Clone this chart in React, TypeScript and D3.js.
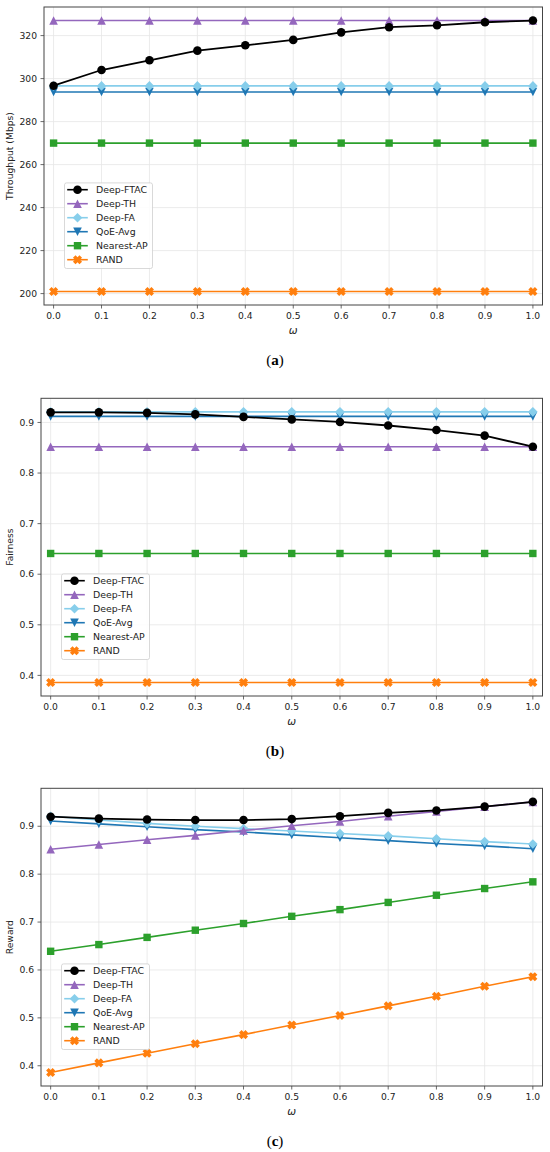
import * as d3 from 'd3';

const omega = [0, 0.1, 0.2, 0.3, 0.4, 0.5, 0.6, 0.7, 0.8, 0.9, 1.0];
const xTicks = omega;
const methods = ['Deep-FTAC', 'Deep-TH', 'Deep-FA', 'QoE-Avg', 'Nearest-AP', 'RAND'];
const colors = ['#000000', '#9467bd', '#87ceeb', '#1f77b4', '#2ca02c', '#ff7f0e'];
const shapes = ['circle', 'tri-up', 'diamond', 'tri-down', 'square', 'x'];

// (a) throughput
const thrFTAC = [296.7, 304.0, 308.5, 313.0, 315.5, 318.0, 321.5, 323.9, 324.8, 326.2, 327.0];
const thrTH = [327, 327, 327, 327, 327, 327, 327, 327, 327, 327, 327];
const thrFA = [296.6, 296.6, 296.6, 296.6, 296.6, 296.6, 296.6, 296.6, 296.6, 296.6, 296.6];
const thrQoE = [293.8, 293.8, 293.8, 293.8, 293.8, 293.8, 293.8, 293.8, 293.8, 293.8, 293.8];
const thrNearest = [270, 270, 270, 270, 270, 270, 270, 270, 270, 270, 270];
const thrRAND = [201, 201, 201, 201, 201, 201, 201, 201, 201, 201, 201];
const thrTicks = [200, 220, 240, 260, 280, 300, 320];

// (b) fairness
const fairFTAC = [0.920, 0.920, 0.919, 0.916, 0.911, 0.906, 0.901, 0.894, 0.885, 0.874, 0.852];
const fairTH = [0.852, 0.852, 0.852, 0.852, 0.852, 0.852, 0.852, 0.852, 0.852, 0.852, 0.852];
const fairFA = [0.921, 0.921, 0.921, 0.921, 0.921, 0.921, 0.921, 0.921, 0.921, 0.921, 0.921];
const fairQoE = [0.912, 0.912, 0.912, 0.912, 0.912, 0.912, 0.912, 0.912, 0.912, 0.912, 0.912];
const fairNearest = [0.641, 0.641, 0.641, 0.641, 0.641, 0.641, 0.641, 0.641, 0.641, 0.641, 0.641];
const fairRAND = [0.386, 0.386, 0.386, 0.386, 0.386, 0.386, 0.386, 0.386, 0.386, 0.386, 0.386];
const fairTicks = [0.4, 0.5, 0.6, 0.7, 0.8, 0.9];

// (c) reward
const rewFTAC = [0.920, 0.916, 0.914, 0.913, 0.913, 0.915, 0.921, 0.928, 0.933, 0.941, 0.951];
const rewTH = [0.852, 0.862, 0.872, 0.881, 0.891, 0.901, 0.910, 0.921, 0.931, 0.941, 0.951];
const rewFA = [0.921, 0.913, 0.906, 0.900, 0.895, 0.890, 0.885, 0.880, 0.874, 0.868, 0.863];
const rewQoE = [0.911, 0.905, 0.899, 0.893, 0.888, 0.882, 0.876, 0.870, 0.864, 0.859, 0.853];
const rewNearest = [0.639, 0.653, 0.668, 0.683, 0.697, 0.712, 0.726, 0.741, 0.756, 0.770, 0.784];
const rewRAND = [0.386, 0.406, 0.426, 0.446, 0.465, 0.485, 0.505, 0.525, 0.545, 0.566, 0.586];
const rewTicks = [0.4, 0.5, 0.6, 0.7, 0.8, 0.9];

const FONT = 'DejaVu Sans, sans-serif';
const SPINE = '#444';
const GRID = '#e6e6e6';

const markerPath = (shape: string) => {
    if (shape === 'circle') return d3.symbol(d3.symbolCircle, Math.PI * 4.3 * 4.3)() as string;
    if (shape === 'square') return 'M-3.7,-3.7L3.7,-3.7L3.7,3.7L-3.7,3.7Z';
    if (shape === 'diamond') return 'M0,-4.8L4.8,0L0,4.8L-4.8,0Z';
    if (shape === 'tri-up') return 'M0,-4.3L4.3,4.3L-4.3,4.3Z';
    if (shape === 'tri-down') return 'M0,4.3L4.3,-4.3L-4.3,-4.3Z';
    // filled X: a plus rotated by 45 degrees
    const L = 4.6, w = 1.8;
    const pts = [[w, L], [w, w], [L, w], [L, -w], [w, -w], [w, -L], [-w, -L], [-w, -w], [-L, -w], [-L, w], [-w, w], [-w, L]];
    const c = Math.SQRT1_2;
    return 'M' + pts.map(([x, y]) => [(x - y) * c, (x + y) * c].map(v => v.toFixed(2)).join(',')).join('L') + 'Z';
};

const Panel = (props: any) => {
    const { left, right, top, bottom, series, yTicks, yLabel, yFmt, letter } = props;
    const all = series.flat();
    const lo = d3.min(all) as number;
    const hi = d3.max(all) as number;
    const pad = (hi - lo) * 0.05;
    const x = d3.scaleLinear().domain([-0.02, 1.02]).range([left, right]);
    const y = d3.scaleLinear().domain([lo - pad, hi + pad]).range([bottom, top]);
    const line = d3.line<number>().x((d, i) => x(omega[i])).y(d => y(d));
    const order = [5, 4, 3, 2, 1, 0];
    const lgX = left + 20.5;
    const lgH = 85.6;
    const lgY = bottom - 36.5 - lgH;
    const cx = (left + right) / 2;

    return (
        <g>
            {xTicks.map(t => (
                <line key={'gx' + t} x1={x(t)} x2={x(t)} y1={top} y2={bottom} stroke={GRID} strokeWidth={0.8} />
            ))}
            {yTicks.map((t: number) => (
                <line key={'gy' + t} x1={left} x2={right} y1={y(t)} y2={y(t)} stroke={GRID} strokeWidth={0.8} />
            ))}
            {order.map(k => (
                <g key={methods[k]}>
                    <path d={line(series[k]) as string} fill="none" stroke={colors[k]} strokeWidth={k === 0 ? 1.8 : 1.6} />
                    {series[k].map((v: number, i: number) => (
                        <path key={i} d={markerPath(shapes[k])} transform={`translate(${x(omega[i])},${y(v)})`} fill={colors[k]} />
                    ))}
                </g>
            ))}
            <rect x={left} y={top} width={right - left} height={bottom - top} fill="none" stroke={SPINE} strokeWidth={1} />
            {xTicks.map(t => (
                <g key={'tx' + t}>
                    <line x1={x(t)} x2={x(t)} y1={bottom} y2={bottom + 3.5} stroke={SPINE} strokeWidth={0.8} />
                    <text x={x(t)} y={bottom + 14} textAnchor="middle" fontFamily={FONT} fontSize={9.2} fill="#222">{t.toFixed(1)}</text>
                </g>
            ))}
            {yTicks.map((t: number) => (
                <g key={'ty' + t}>
                    <line x1={left - 3.5} x2={left} y1={y(t)} y2={y(t)} stroke={SPINE} strokeWidth={0.8} />
                    <text x={left - 7} y={y(t)} dy="0.34em" textAnchor="end" fontFamily={FONT} fontSize={9.2} fill="#222">{yFmt(t)}</text>
                </g>
            ))}
            <text x={cx} y={bottom + 28.5} textAnchor="middle" fontFamily={FONT} fontStyle="italic" fontSize={10.5} fill="#222">ω</text>
            <text transform={`translate(13,${(top + bottom) / 2}) rotate(-90)`} textAnchor="middle" fontFamily={FONT} fontSize={9.2} fill="#222">{yLabel}</text>
            <g>
                <rect x={lgX} y={lgY} width={88} height={lgH} rx={2} fill="#fff" fillOpacity={0.85} stroke="#cfcfcf" strokeWidth={0.8} />
                {methods.map((m, k) => {
                    const ry = lgY + 6.8 + k * 14;
                    return (
                        <g key={'lg' + m}>
                            <line x1={lgX + 2.7} x2={lgX + 23.3} y1={ry} y2={ry} stroke={colors[k]} strokeWidth={1.6} />
                            <path d={markerPath(shapes[k])} transform={`translate(${lgX + 13},${ry})`} fill={colors[k]} />
                            <text x={lgX + 31.5} y={ry} dy="0.36em" fontFamily={FONT} fontSize={9.4} fill="#222">{m}</text>
                        </g>
                    );
                })}
            </g>
            <text x={275} y={bottom + 60} textAnchor="middle" fontFamily="Liberation Serif, serif" fontSize={15} fill="#000">
                (<tspan fontWeight="bold">{letter}</tspan>)
            </text>
        </g>
    );
};

const App = () => {
    return (
        <svg width={550} height={1152} style={{ position: 'absolute', left: 0, top: 0, background: '#fff' }}>
            <rect width={550} height={1152} fill="#fff" />
            <Panel left={44} right={542.5} top={7} bottom={305}
                series={[thrFTAC, thrTH, thrFA, thrQoE, thrNearest, thrRAND]}
                yTicks={thrTicks} yLabel="Throughput (Mbps)" yFmt={(t: number) => String(t)} letter="a" />
            <Panel left={41} right={542.5} top={398.3} bottom={696}
                series={[fairFTAC, fairTH, fairFA, fairQoE, fairNearest, fairRAND]}
                yTicks={fairTicks} yLabel="Fairness" yFmt={(t: number) => t.toFixed(1)} letter="b" />
            <Panel left={41} right={542.5} top={788.3} bottom={1086}
                series={[rewFTAC, rewTH, rewFA, rewQoE, rewNearest, rewRAND]}
                yTicks={rewTicks} yLabel="Reward" yFmt={(t: number) => t.toFixed(1)} letter="c" />
        </svg>
    );
};

export default App;
